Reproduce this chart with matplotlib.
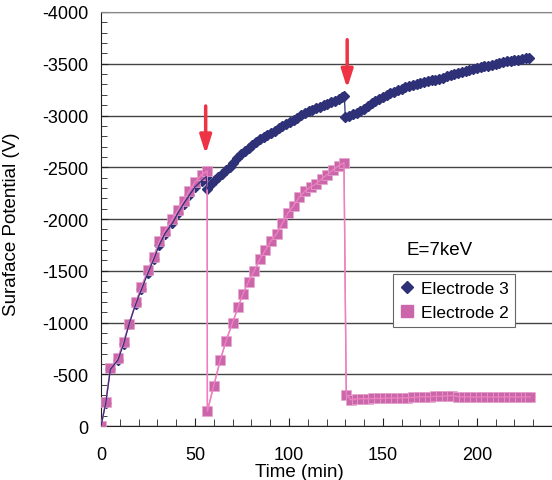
import matplotlib.pyplot as plt
from matplotlib.lines import Line2D
from matplotlib.ticker import MultipleLocator

plt.rcParams['font.family'] = ['Liberation Sans', 'DejaVu Sans']
plt.rcParams['axes.unicode_minus'] = False

# Electrode 3 (navy diamonds)
t3 = [0, 2.5, 5, 9, 12, 15, 18.5, 21.5, 25, 28, 31, 34, 38, 41, 44, 47, 50, 53.5, 56,
      56.5, 58.5, 60.5, 62.5, 64.5, 66.5, 68.5, 70.5, 72.5, 74.5, 76.5, 78.5, 80.5,
      82.5, 84.5, 86.5, 88.5, 90.5, 92.5, 94.5, 96.5, 98.5, 100.5, 102.5, 104.5,
      106.5, 108.5, 110.5, 112.5, 114.5, 116.5, 118.5, 120.5, 122.5, 124.5, 126.5,
      128.5, 129.5,
      130, 132, 134, 136, 138, 140, 142, 144, 146, 148, 150, 152, 154, 156, 158, 160,
      162, 164, 166, 168, 170, 172, 174, 176, 178, 180, 182, 184, 186, 188, 190, 192,
      194, 196, 198, 200, 202, 204, 206, 208, 210, 212, 214, 216, 218, 220, 222, 224,
      226, 228]
v3 = [0, -220, -550, -640, -790, -990, -1180, -1320, -1480, -1610, -1750, -1860,
      -1960, -2060, -2150, -2230, -2310, -2370, -2410,
      -2290, -2340, -2375, -2410, -2440, -2470, -2505, -2540, -2590, -2630, -2660,
      -2690, -2715, -2745, -2770, -2795, -2815, -2835, -2855, -2875, -2895, -2915,
      -2935, -2955, -2980, -3005, -3028, -3045, -3058, -3070, -3082, -3097, -3112,
      -3128, -3145, -3160, -3178, -3190,
      -2985, -2995, -3010, -3025, -3042, -3062, -3090, -3120, -3140, -3160, -3180,
      -3200, -3215, -3230, -3245, -3260, -3272, -3285, -3295, -3305, -3315, -3325,
      -3332, -3340, -3347, -3355, -3365, -3378, -3390, -3400, -3410, -3420, -3430,
      -3440, -3448, -3457, -3465, -3474, -3482, -3490, -3498, -3506, -3515, -3522,
      -3528, -3535, -3540, -3546, -3552, -3555]

# Electrode 2 (pink squares)
t2 = [0, 2.5, 5, 9, 12, 15, 18.5, 21.5, 25, 28, 31, 34, 38, 41, 44, 47, 50, 53.5, 56.5,
      56.6, 60, 63.5, 66.5, 70, 73, 75.5, 78.5, 81.5, 84.5, 87.5, 90.5, 93.5, 96.5,
      99.5, 102.5, 105.5, 108.5, 111.5, 114.5, 117.5, 120.5, 123.5, 126.5, 129.3,
      130.5, 133, 136, 139, 142, 145, 148, 151, 154, 157, 160, 163, 166, 169, 172,
      175, 178, 181, 184, 187, 190, 193, 196, 199, 202, 205, 208, 211, 214, 217, 220,
      223, 226, 228.5]
v2 = [0, -230, -557, -660, -815, -985, -1195, -1345, -1505, -1635, -1785, -1885,
      -2000, -2090, -2177, -2273, -2355, -2428, -2465,
      -145, -390, -640, -820, -1000, -1150, -1275, -1395, -1500, -1610, -1700, -1790,
      -1860, -1960, -2060, -2130, -2210, -2270, -2310, -2340, -2390, -2430, -2475,
      -2515, -2545,
      -305, -255, -262, -265, -265, -268, -268, -270, -270, -272, -272, -275, -278,
      -282, -285, -285, -287, -288, -292, -295, -285, -283, -283, -282, -282, -282,
      -282, -282, -282, -282, -282, -282, -282, -282]

navy = '#2E3178'
pink = '#CC66AA'
pink_line = '#EE80C0'
red = '#EE3344'

fig = plt.figure(figsize=(5.52, 4.81), dpi=100)
ax = fig.add_axes([0.183, 0.112, 0.817, 0.861])

ax.plot(t3, v3, linestyle='none', marker='D', markersize=5, color=navy, zorder=2)
ax.plot(t2, v2, color=pink_line, lw=1, marker='s', markersize=7,
        markerfacecolor=pink, markeredgecolor='#E8A8D0', markeredgewidth=0.5, zorder=3)
ax.plot(t2, v2, color=pink_line, lw=1, zorder=3.5)
ax.plot(t3, v3, color=navy, lw=0.9, zorder=4)

ax.set_xlim(0, 240)
ax.set_ylim(0, -4000)
ax.xaxis.set_major_locator(MultipleLocator(50))
ax.xaxis.set_minor_locator(MultipleLocator(10))
ax.yaxis.set_major_locator(MultipleLocator(500))
ax.yaxis.set_minor_locator(MultipleLocator(100))
ax.set_xticks([0, 50, 100, 150, 200])
ax.tick_params(which='both', direction='in', labelsize=13, color='#222222')
ax.tick_params(axis='x', which='major', length=6, pad=14)
ax.tick_params(axis='x', which='minor', length=5)
ax.tick_params(axis='y', which='major', length=5, pad=9)
ax.tick_params(axis='y', which='minor', length=4)
ax.grid(axis='y', which='major', color='#444444', lw=1)
ax.set_axisbelow(True)

ax.spines['right'].set_visible(False)
ax.spines['top'].set_color('#888888')
ax.spines['left'].set_color('#222222')
ax.spines['bottom'].set_color('#222222')

ax.set_ylabel('Suraface Potential (V)', fontsize=13.5)
ax.yaxis.set_label_coords(-0.18, 0.49)
ax.set_xlabel('Time (min)', fontsize=13.5)
ax.xaxis.set_label_coords(0.44, -0.09)

ax.text(180, -1710, 'E=7keV', fontsize=13.5, ha='center', va='center')

for x, y0, y1 in [(55.7, -3092, -2628), (131, -3732, -3263)]:
    ax.annotate('', xy=(x, y1), xytext=(x, y0),
                arrowprops=dict(arrowstyle='-|>,head_length=1.1,head_width=0.35',
                                color=red, lw=2.5, shrinkA=0, shrinkB=0), zorder=5)

handles = [Line2D([], [], linestyle='none', marker='D', markersize=6, color=navy),
           Line2D([], [], linestyle='none', marker='s', markersize=8, color=pink)]
leg = ax.legend(handles, ['Electrode 3', 'Electrode 2'], loc='upper left',
                bbox_to_anchor=(0.647, 0.368), fontsize=12.5, frameon=True,
                fancybox=False, edgecolor='#666666', framealpha=1,
                handlelength=0.8, handletextpad=0.4, borderpad=0.4,
                labelspacing=0.5, borderaxespad=0)
leg.get_frame().set_linewidth(0.8)

fig.savefig('out.png', dpi=100)
